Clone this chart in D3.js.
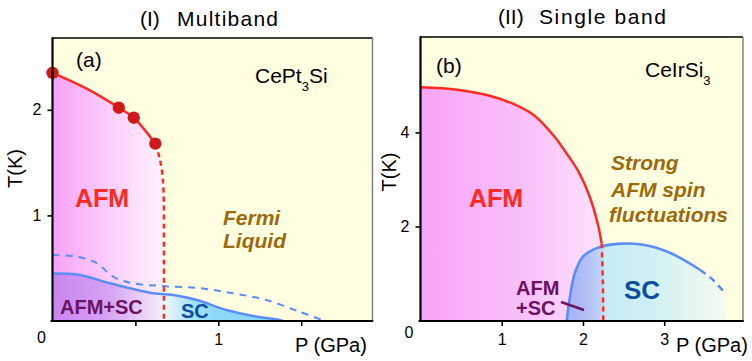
<!DOCTYPE html>
<html><head><meta charset="utf-8">
<script src="https://cdn.jsdelivr.net/npm/d3@7"></script>
<style>
html,body{margin:0;padding:0;background:#fff;}
svg{display:block;font-family:"Liberation Sans",Arial,Helvetica,sans-serif;}
</style></head>
<body>
<svg id="chart" width="752" height="361"></svg>
<script>
// ---------- Panel (a): CePt3Si ----------
const aTickX = [0.5, 1, 1.5];
const aTickXLabels = ["", "1", ""];
const aTickY = [1, 2];
const aNeelP = [0, 0.206, 0.40, 0.49, 0.62];
const aNeelT = [2.35, 2.20, 2.02, 1.925, 1.68];
const aNeelDashP = [0.62, 0.645, 0.662, 0.670, 0.672, 0.672];
const aNeelDashT = [1.68, 1.55, 1.40, 1.22, 0.8, 0];
const aDotP = [0, 0.40, 0.49, 0.62];
const aDotT = [2.35, 2.02, 1.925, 1.68];
const aScP = [0, 0.166, 0.347, 0.606, 0.727, 0.871, 1.05, 1.21, 1.35, 1.39];
const aScT = [0.45, 0.436, 0.357, 0.262, 0.246, 0.199, 0.104, 0.047, 0.016, 0];
const aUpP = [0, 0.148, 0.268, 0.365, 0.486, 0.667, 0.89, 1.09, 1.29, 1.49, 1.625];
const aUpT = [0.625, 0.609, 0.549, 0.42, 0.357, 0.331, 0.31, 0.262, 0.199, 0.088, 0.01];

// ---------- Panel (b): CeIrSi3 ----------
const bTickX = [1, 2, 3];
const bTickY = [2, 4];
const bNeelP = [0, 0.45, 0.85, 1.15, 1.40, 1.63, 1.80, 1.95, 2.09, 2.19, 2.23];
const bNeelT = [4.96, 4.91, 4.78, 4.60, 4.36, 3.95, 3.55, 3.15, 2.6, 2.0, 1.64];
const bNeelDashP = [2.23, 2.245, 2.25];
const bNeelDashT = [1.64, 0.8, 0];
const bScP = [1.80, 1.84, 1.90, 2.0, 2.17, 2.42, 2.74, 3.07, 3.44];
const bScT = [0, 0.506, 1.01, 1.36, 1.54, 1.63, 1.61, 1.44, 1.08];
const bScDashP = [3.44, 3.59, 3.75];
const bScDashT = [1.08, 0.88, 0.58];
const bScEndP = 3.77;

const zip = (P, T) => P.map((p, i) => [p, T[i]]);

const svg = d3.select("#chart");
const defs = svg.append("defs");

const BG = "#fffee0", RED = "#ff2a22", DOT = "#d01a1a", BLUE = "#5b8df2";
const BROWN = "#9c6a0e", PURPLE = "#6b1262", SCBLUE = "#0c4d9e";

function gradient(id, x1, x2, stops) {
  const g = defs.append("linearGradient").attr("id", id)
    .attr("gradientUnits", "userSpaceOnUse")
    .attr("x1", x1).attr("x2", x2).attr("y1", 0).attr("y2", 0);
  stops.forEach(s => g.append("stop").attr("offset", s[0]).attr("stop-color", s[1]));
  return "url(#" + id + ")";
}

function frame(g, L, T, R, B) {
  g.append("line").attr("x1", L).attr("x2", R).attr("y1", T).attr("y2", T).attr("stroke", "#000").attr("stroke-width", 1.6);
  g.append("line").attr("x1", R).attr("x2", R).attr("y1", T).attr("y2", B).attr("stroke", "#7a7a7a").attr("stroke-width", 1.4);
  g.append("line").attr("x1", L).attr("x2", L).attr("y1", T - 0.8).attr("y2", B).attr("stroke", "#000").attr("stroke-width", 2.2);
  g.append("line").attr("x1", L - 2).attr("x2", R + 0.7).attr("y1", B).attr("y2", B).attr("stroke", "#000").attr("stroke-width", 2.2);
}

function styleAxis(sel, fs) {
  sel.select(".domain").remove();
  sel.selectAll(".tick line").attr("stroke", "#000").attr("stroke-width", 1.6);
  sel.selectAll(".tick text").attr("font-size", fs).attr("fill", "#000")
    .attr("font-family", "'Liberation Sans',Arial,sans-serif");
}

function txt(g, x, y, s, o) {
  o = o || {};
  return g.append("text").attr("x", x).attr("y", y).text(s)
    .attr("font-size", o.fs || 20).attr("font-weight", o.fw || "normal")
    .attr("font-style", o.it ? "italic" : "normal").attr("fill", o.c || "#000")
    .attr("text-anchor", o.anchor || "start");
}

// ================= Panel (a) =================
{
  const L = 52.5, R = 372.5, T = 38, B = 321;
  const x = d3.scaleLinear().domain([0, 1.93]).range([L, R]);
  const y = d3.scaleLinear().domain([0, 2.68]).range([B, T]);
  const g = svg.append("g");
  g.append("rect").attr("x", L).attr("y", T).attr("width", R - L).attr("height", B - T).attr("fill", BG);

  const line = d3.line().x(d => x(d[0])).y(d => y(d[1])).curve(d3.curveCatmullRom.alpha(0.5));
  const area = pts => `M${x(0)},${y(0)}L` + line(pts).slice(1) + "Z";
  const afmPts = zip(aNeelP, aNeelT).concat(zip(aNeelDashP, aNeelDashT).slice(1));
  const afmFill = gradient("ga1", x(0), x(0.67), [[0, "#f8a2f8"], [0.5, "#fbcdfb"], [1, "#fef2fe"]]);
  g.append("path").attr("d", area(afmPts)).attr("fill", afmFill);
  const scFill = gradient("gs1", x(0), x(1.4), [
    [0, "#c985f0"], [0.25, "#d7a3f3"], [0.44, "#f1e2fa"], [0.478, "#f5f0fc"],
    [0.482, "#eef8fd"], [0.6, "#a6e2f8"], [0.7, "#8dd9f8"], [1, "#86d6f7"]]);
  g.append("path").attr("d", area(zip(aScP, aScT))).attr("fill", scFill);

  g.append("path").attr("d", line(zip(aUpP, aUpT))).attr("fill", "none")
    .attr("stroke", BLUE).attr("stroke-width", 2).attr("stroke-dasharray", "7,6");
  g.append("path").attr("d", line(zip(aScP, aScT))).attr("fill", "none")
    .attr("stroke", BLUE).attr("stroke-width", 2.5);
  g.append("path").attr("d", line(zip(aNeelDashP, aNeelDashT))).attr("fill", "none")
    .attr("stroke", RED).attr("stroke-width", 2.5).attr("stroke-dasharray", "5,4");
  g.append("path").attr("d", line(zip(aNeelP, aNeelT))).attr("fill", "none")
    .attr("stroke", RED).attr("stroke-width", 2.5);
  g.selectAll("circle.dot").data(zip(aDotP, aDotT)).join("circle").attr("class", "dot")
    .attr("cx", d => x(d[0])).attr("cy", d => y(d[1])).attr("r", 6.2).attr("fill", DOT);

  frame(g, L, T, R, B);

  const ax = g.append("g").attr("transform", `translate(0,${B})`)
    .call(d3.axisBottom(x).tickValues(aTickX).tickFormat((d, i) => aTickXLabels[i]).tickSize(5).tickPadding(8));
  styleAxis(ax, 16);
  const ay = g.append("g").attr("transform", `translate(${L},0)`)
    .call(d3.axisLeft(y).tickValues(aTickY).tickFormat(d3.format("d")).tickSize(5).tickPadding(6));
  styleAxis(ay, 16);
  txt(g, 41.5, 343, "0", {fs: 16, anchor: "middle"});

  txt(g, 140, 26, "(I)", {fs: 21});
  txt(g, 177, 26, "Multiband", {fs: 21}).attr("textLength", 101).attr("lengthAdjust", "spacing");
  txt(g, 76, 67, "(a)", {fs: 21});
  const ce = txt(g, 255, 83, "CePt", {fs: 21});
  ce.append("tspan").attr("font-size", 13).attr("dy", 8).text("3");
  ce.append("tspan").attr("dy", -8).text("Si");
  txt(g, 75, 206.5, "AFM", {fs: 25, fw: "bold", c: RED});
  txt(g, 223, 225, "Fermi", {fs: 21, fw: "bold", it: true, c: BROWN});
  txt(g, 223, 248, "Liquid", {fs: 21, fw: "bold", it: true, c: BROWN});
  txt(g, 60, 314, "AFM+SC", {fs: 20, fw: "bold", c: PURPLE});
  txt(g, 181, 318, "SC", {fs: 20, fw: "bold", c: SCBLUE});
  txt(g, 295, 352, "P (GPa)", {fs: 20});
  txt(g, 22, 168.5, "T(K)", {fs: 20, anchor: "middle"}).attr("transform", "rotate(-90,22,168.5)");
}

// ================= Panel (b) =================
{
  const L = 420.5, R = 743, T = 37, B = 321;
  const x = d3.scaleLinear().domain([0, 3.97]).range([L, R]);
  const y = d3.scaleLinear().domain([0, 6.03]).range([320.5, T]);
  const g = svg.append("g");
  g.append("rect").attr("x", L).attr("y", T).attr("width", R - L).attr("height", B - T).attr("fill", BG);

  const line = d3.line().x(d => x(d[0])).y(d => y(d[1])).curve(d3.curveCatmullRom.alpha(0.5));
  const area = pts => `M${x(0)},${y(0)}L` + line(pts).slice(1) + "Z";
  const afmPts = zip(bNeelP, bNeelT).concat(zip(bNeelDashP, bNeelDashT).slice(1));
  const afmFill = gradient("ga2", x(0), x(2.25), [[0, "#f7a4f7"], [0.6, "#fac2fa"], [1, "#fde3fd"]]);
  g.append("path").attr("d", area(afmPts)).attr("fill", afmFill);

  const scPts = zip(bScP, bScT).concat(zip(bScDashP, bScDashT).slice(1));
  const scFill = gradient("gs2", x(1.8), x(3.77), [
    [0, "#a6b0f6"], [0.15, "#b6c4f6"], [0.225, "#c3d8f6"], [0.24, "#c6ecf6"],
    [0.5, "#cdeff3"], [0.8, "#e6f7f2"], [1, "#f8fcf0"]]);
  g.append("path").attr("d", line(scPts) + `L${x(bScEndP)},${y(0)}Z`).attr("fill", scFill);

  g.append("path").attr("d", line(zip(bScP, bScT))).attr("fill", "none")
    .attr("stroke", BLUE).attr("stroke-width", 2.6);
  g.append("path").attr("d", line(zip(bScDashP, bScDashT))).attr("fill", "none")
    .attr("stroke", BLUE).attr("stroke-width", 2.6).attr("stroke-dasharray", "7,5");
  g.append("path").attr("d", line(zip(bNeelP, bNeelT))).attr("fill", "none")
    .attr("stroke", RED).attr("stroke-width", 2.5);
  g.append("path").attr("d", line(zip(bNeelDashP, bNeelDashT))).attr("fill", "none")
    .attr("stroke", RED).attr("stroke-width", 2.5).attr("stroke-dasharray", "5,4");

  frame(g, L, T, R, B);

  const ax = g.append("g").attr("transform", `translate(0,${B})`)
    .call(d3.axisBottom(x).tickValues(bTickX).tickFormat(d3.format("d")).tickSize(5).tickPadding(8));
  styleAxis(ax, 16);
  const ay = g.append("g").attr("transform", `translate(${L},0)`)
    .call(d3.axisLeft(y).tickValues(bTickY).tickFormat(d3.format("d")).tickSize(5).tickPadding(6));
  styleAxis(ay, 16);
  txt(g, 409, 338, "0", {fs: 16, anchor: "middle"});

  txt(g, 498, 23.5, "(II)", {fs: 21});
  txt(g, 539, 23.5, "Single band", {fs: 21}).attr("textLength", 127).attr("lengthAdjust", "spacing");
  txt(g, 436, 73, "(b)", {fs: 21});
  const ce = txt(g, 645, 77, "CeIrSi", {fs: 21});
  ce.append("tspan").attr("font-size", 13).attr("dy", 8).text("3");
  txt(g, 469, 206.7, "AFM", {fs: 25, fw: "bold", c: RED});
  txt(g, 611, 170, "Strong", {fs: 21, fw: "bold", it: true, c: BROWN});
  txt(g, 611, 196.7, "AFM spin", {fs: 21, fw: "bold", it: true, c: BROWN});
  txt(g, 609, 221.7, "fluctuations", {fs: 21, fw: "bold", it: true, c: BROWN});
  txt(g, 624, 299, "SC", {fs: 26, fw: "bold", c: SCBLUE});
  txt(g, 516, 295, "AFM", {fs: 20, fw: "bold", c: PURPLE});
  txt(g, 516, 315, "+SC", {fs: 20, fw: "bold", c: PURPLE});
  g.append("line").attr("x1", 561).attr("y1", 302).attr("x2", 584).attr("y2", 310)
    .attr("stroke", PURPLE).attr("stroke-width", 2.6);
  txt(g, 676, 352, "P (GPa)", {fs: 20});
  txt(g, 396, 172, "T(K)", {fs: 20, anchor: "middle"}).attr("transform", "rotate(-90,396,172)");
}
</script>
</body></html>
